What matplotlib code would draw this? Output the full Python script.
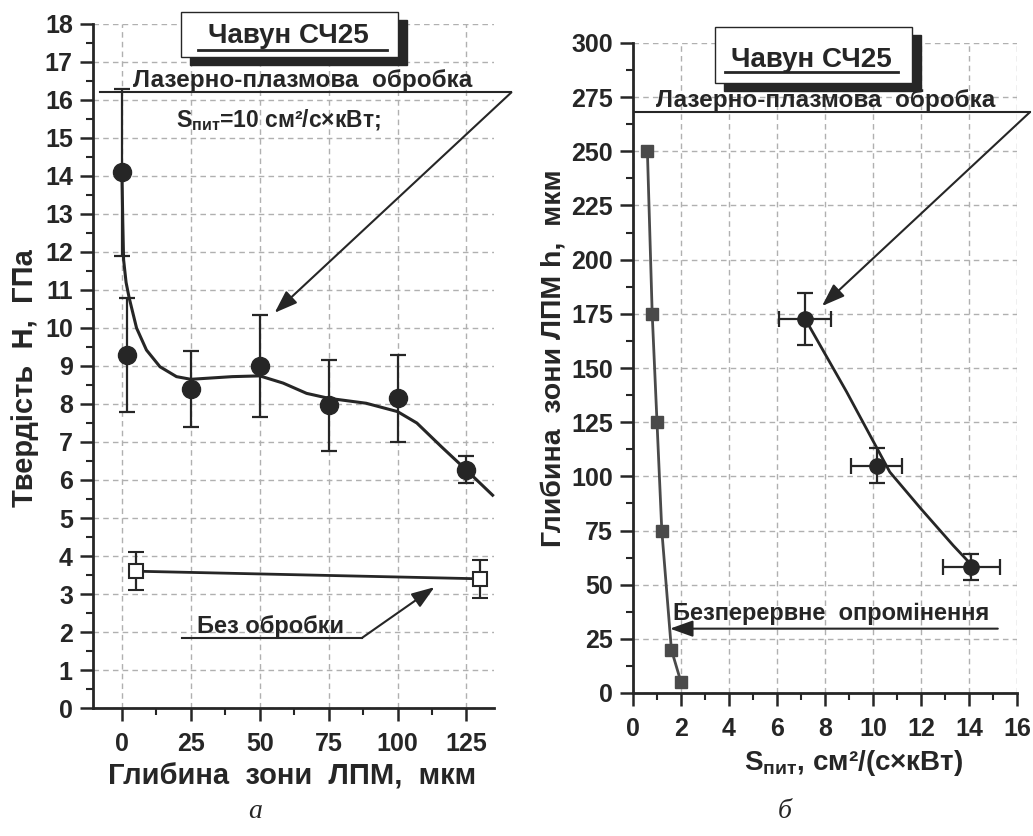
import matplotlib
matplotlib.use("Agg")
import matplotlib.pyplot as plt
from matplotlib.ticker import MultipleLocator
from matplotlib.patches import Rectangle
from matplotlib.lines import Line2D

plt.rcParams['font.family'] = ['Liberation Sans', 'DejaVu Sans']
plt.rcParams['font.weight'] = 'bold'
plt.rcParams['axes.labelweight'] = 'bold'
plt.rcParams['mathtext.fontset'] = 'custom'
plt.rcParams['mathtext.rm'] = 'Liberation Sans:bold'
plt.rcParams['mathtext.it'] = 'Liberation Sans:bold'
plt.rcParams['mathtext.bf'] = 'Liberation Sans:bold'

# --- panel a: hardness vs depth ---
depth = [0, 2, 25, 50, 75, 100, 125]
hard = [14.1, 9.3, 8.4, 9.0, 7.97, 8.15, 6.27]
hard_err = [2.2, 1.5, 1.0, 1.35, 1.2, 1.15, 0.35]
# fitted curve
fit_a_x = [0, 0.3, 0.6, 1.5, 2.6, 5.3, 8.9, 13.8, 19.8, 25, 40, 50, 58.5, 67, 75,
           88.6, 100, 107, 116, 125, 134.5]
fit_a_y = [14.1, 12.8, 11.8, 11.2, 10.8, 10.0, 9.42, 8.98, 8.72, 8.65, 8.72, 8.74,
           8.55, 8.28, 8.15, 8.02, 7.8, 7.5, 6.87, 6.26, 5.6]
raw_x = [5, 130]
raw_y = [3.6, 3.4]
raw_err = [0.5, 0.5]

# --- panel b: depth vs specific energy ---
cont_s = [0.6, 0.8, 1.0, 1.2, 1.6, 2.0]
cont_h = [250, 175, 125, 75, 20, 5]
lpm_s = [7.17, 10.15, 14.1]
lpm_h = [172.7, 105, 58]
lpm_serr = [1.1, 1.05, 1.2]
lpm_herr = [12, 8, 6]
fit_b_x = [7.17, 8.9, 10.7, 12.0, 13.35, 14.2]
fit_b_y = [172.7, 139, 102, 85, 68, 58]

W, H = 1033, 836
fig = plt.figure(figsize=(W / 100, H / 100), dpi=100)


def fx(px):
    return px / W


def fy(py):
    return 1 - py / H


dark = '#262626'
grey = '#4a4a4a'
arrow = dict(arrowstyle='-|>,head_length=0.7,head_width=0.25', color=dark, lw=1.5,
             mutation_scale=20, shrinkA=0, shrinkB=0)

ax1 = fig.add_axes([fx(93), fy(708), (494 - 93) / W, (708 - 24) / H])
ax2 = fig.add_axes([fx(633), fy(693), (1017 - 633) / W, (693 - 43) / H])

for ax in (ax1, ax2):
    ax.spines['top'].set_visible(False)
    ax.spines['right'].set_visible(False)
    for s in ('left', 'bottom'):
        ax.spines[s].set_linewidth(2)
        ax.spines[s].set_color(dark)
    ax.grid(True, which='major', color='#b0b0b0', linestyle=(0, (4, 3)), lw=1)
    ax.set_axisbelow(True)
    ax.tick_params(which='major', length=9.5, width=1.8, color=dark, labelsize=18,
                   labelcolor=dark)
    ax.tick_params(which='minor', length=5, width=1.5, color=dark)
    ax.tick_params(axis='x', which='major', pad=8)
    ax.tick_params(axis='y', which='major', pad=5)

# panel a
ax1.set_xlim(-10.5, 135)
ax1.set_ylim(0, 18)
ax1.xaxis.set_major_locator(MultipleLocator(25))
ax1.xaxis.set_minor_locator(MultipleLocator(12.5))
ax1.yaxis.set_major_locator(MultipleLocator(1))
ax1.yaxis.set_minor_locator(MultipleLocator(0.5))

ax1.plot(fit_a_x, fit_a_y, color=dark, lw=2.2, clip_on=False, zorder=3)
ax1.errorbar(depth, hard, yerr=hard_err, fmt='o', color=dark, ms=13, elinewidth=1.6,
             capsize=6, capthick=1.6, zorder=4)
ax1.errorbar(raw_x, raw_y, yerr=raw_err, fmt='-s', color=dark, mfc='white', mec=dark,
             mew=1.5, ms=10, lw=2, elinewidth=1.6, capsize=6, capthick=1.6,
             zorder=4, clip_on=False)

ax1.set_xlabel('Глибина  зони  ЛПМ,  мкм', fontsize=21, color=dark)
ax1.xaxis.set_label_coords(0.496, -0.079)
ax1.set_ylabel('Твердість  H,  ГПа', fontsize=21, color=dark)
ax1.yaxis.set_label_coords(-0.135, 0.482)

ax1.text(65.6, 16.34, 'Лазерно-плазмова  обробка', fontsize=17.5, ha='center',
         va='baseline', color=dark)
ax1.plot([-8, 141.3], [16.2, 16.2], color=dark, lw=1.5, clip_on=False)
ax1.annotate('', xy=(55.4, 10.4), xytext=(141.3, 16.2), annotation_clip=False,
             arrowprops=arrow)
ax1.text(56.9, 15.29, r'S$_{\mathrm{пит}}$=10 см²/с×кВт;', fontsize=16.5, ha='center',
         va='baseline', color=dark)
ax1.text(54, 1.97, 'Без обробки', fontsize=17, ha='center', va='baseline', color=dark)
ax1.plot([21.7, 87], [1.84, 1.84], color=dark, lw=1.5)
ax1.annotate('', xy=(113.4, 3.18), xytext=(87, 1.84), arrowprops=arrow)

# panel b
ax2.set_xlim(0, 16)
ax2.set_ylim(0, 300)
ax2.xaxis.set_major_locator(MultipleLocator(2))
ax2.xaxis.set_minor_locator(MultipleLocator(1))
ax2.yaxis.set_major_locator(MultipleLocator(25))
ax2.yaxis.set_minor_locator(MultipleLocator(12.5))

ax2.plot(cont_s, cont_h, '-s', color=grey, ms=9, lw=2, zorder=4, clip_on=False)
ax2.plot(fit_b_x, fit_b_y, color=dark, lw=2, zorder=3)
ax2.errorbar(lpm_s, lpm_h, xerr=lpm_serr, yerr=lpm_herr, fmt='o', color=dark, ms=11,
             elinewidth=1.6, capsize=6, capthick=1.6, zorder=4)

ax2.set_xlabel(r'S$_{\mathrm{пит}}$, см²/(с×кВт)', fontsize=20, color=dark)
ax2.xaxis.set_label_coords(0.575, -0.085)
ax2.set_ylabel('Глибина  зони ЛПМ h,  мкм', fontsize=20.5, color=dark)
ax2.yaxis.set_label_coords(-0.172, 0.515)

ax2.text(8.04, 270.4, 'Лазерно-плазмова  обробка', fontsize=17.5, ha='center',
         va='baseline', color=dark)
ax2.plot([0.08, 16.54], [268.1, 268.1], color=dark, lw=1.5, clip_on=False)
ax2.annotate('', xy=(7.875, 178.6), xytext=(16.54, 268.1), annotation_clip=False,
             arrowprops=arrow)
ax2.text(8.25, 33.9, 'Безперервне  опромінення', fontsize=17, ha='center',
         va='baseline', color=dark)
ax2.annotate('', xy=(1.54, 29.7), xytext=(15.2, 29.7), arrowprops=arrow)

# title boxes with shadow
for (x0, y0, x1, y1, tx, ty, ux0, ux1, uy) in [
        (181, 12, 398, 57, 288, 43, 198, 387, 50),
        (715, 27, 912, 83, 811, 67, 725, 898, 72)]:
    fig.patches.append(Rectangle((fx(x0 + 9), fy(y1 + 8)), (x1 - x0) / W, (y1 - y0) / H,
                                 transform=fig.transFigure, facecolor=dark,
                                 edgecolor=dark, zorder=5))
    fig.patches.append(Rectangle((fx(x0), fy(y1)), (x1 - x0) / W, (y1 - y0) / H,
                                 transform=fig.transFigure, facecolor='white',
                                 edgecolor=dark, lw=1, zorder=6))
    fig.text(fx(tx), fy(ty), 'Чавун СЧ25', fontsize=20, ha='center', va='baseline',
             color=dark, zorder=7)
    fig.lines.append(Line2D([fx(ux0), fx(ux1)], [fy(uy), fy(uy)],
                            transform=fig.transFigure, color=dark, lw=2, zorder=7))

fig.text(fx(255), fy(812), 'а', fontsize=20, style='italic', weight='normal',
         family='Liberation Serif', ha='center', va='center', color=dark)
fig.text(fx(785), fy(812), 'б', fontsize=20, style='italic', weight='normal',
         family='Liberation Serif', ha='center', va='center', color=dark)

fig.savefig('out.png', dpi=100)
